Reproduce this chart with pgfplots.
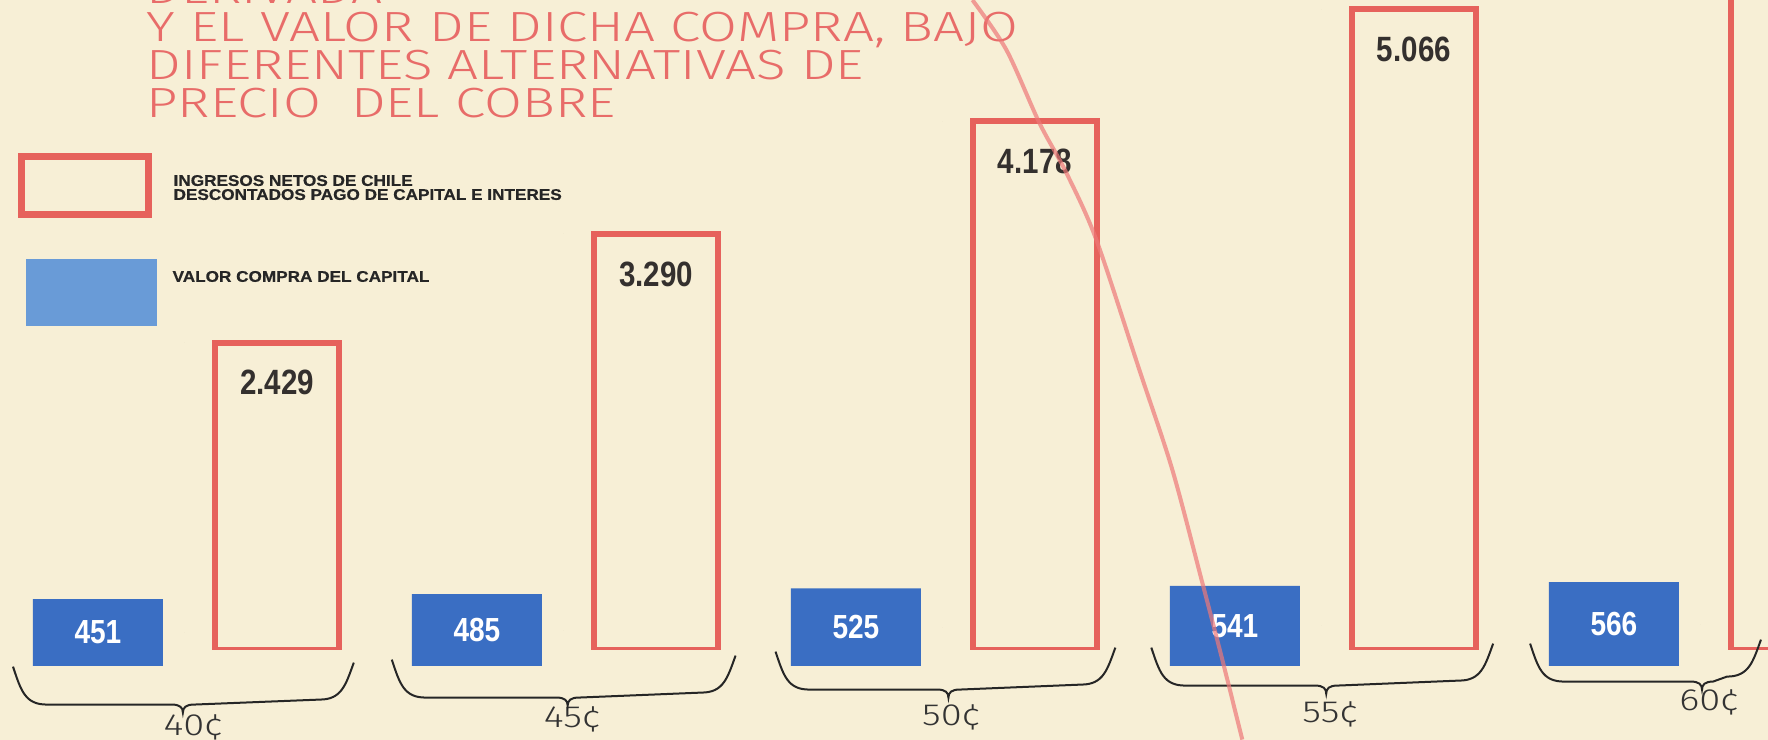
\documentclass[border=0pt]{standalone}
\usepackage{pgfplots}
\pgfplotsset{compat=1.18}
\usepackage{pgfplotstable}
\usepackage{fontspec}
\setmainfont{Liberation Sans}
\newfontfamily\titlefont{Fira Sans Light}[FakeStretch=1.3]
\newfontfamily\pricefont{Fira Sans Light}[FakeStretch=1.25]
\newfontfamily\legfont{Liberation Sans}[FakeStretch=1.11, FakeBold=0.6]
\newfontfamily\barfont{Liberation Sans}[FakeStretch=0.84]
\definecolor{bg}{RGB}{247,239,214}
\definecolor{barred}{RGB}{230,98,92}
\definecolor{titlered}{RGB}{232,108,105}
\definecolor{pinkline}{RGB}{238,120,120}
\definecolor{barblue}{RGB}{58,110,195}
\definecolor{legblue}{RGB}{105,155,215}
\definecolor{numgray}{RGB}{52,48,46}

\pgfplotstableread{
x v lab
0 2429 2.429
1 3290 3.290
2 4178 4.178
3 5066 5.066
4 5954 5.954
}\ingresos
\pgfplotstableread{
x v lab
0 451 451
1 485 485
2 525 525
3 541 541
4 566 566
}\compra

\begin{document}
\begin{tikzpicture}
\path[use as bounding box] (0,0) rectangle (17.68cm,-7.40cm);
\fill[bg] (0,0) rectangle (17.68cm,-7.40cm);

\begin{scope}[x=0.01cm,y=-0.01cm]
% title
\begin{scope}[every node/.style={anchor=base west, inner sep=0pt, text=titlered, font=\titlefont\fontsize{12}{14}\selectfont}]
\node at (146,4) {DERIVADA};
\node at (146,42) {Y EL VALOR DE DICHA COMPRA, BAJO};
\node at (146,80) {DIFERENTES ALTERNATIVAS DE};
\node at (146,118) {PRECIO\hspace{0.35em} DEL COBRE};
\end{scope}
% legend
\draw[barred, line width=0.07cm] (21.5,156.5) rectangle (148.5,214.5);
\fill[legblue] (26,259) rectangle (157,326);
\begin{scope}[every node/.style={anchor=base west, inner sep=0pt, text=black!85, font=\legfont\bfseries\fontsize{4.4}{5}\selectfont}]
\node at (173,186) {INGRESOS NETOS DE CHILE};
\node at (173,200) {DESCONTADOS PAGO DE CAPITAL E INTERES};
\node at (172,282) {VALOR COMPRA DEL CAPITAL};
\end{scope}
\end{scope}

% blue bars
\begin{axis}[at={(0cm,-6.66cm)}, anchor=south west, scale only axis,
  width=17.68cm, height=6.66cm, xmin=-0.488, xmax=4.177, ymin=0, ymax=4500,
  hide axis]
\addplot[ybar, bar width=1.30cm, bar shift=-0.87cm, fill=barblue, draw=none]
  table[x=x,y=v]{\compra};
\addplot[only marks, mark=*, mark size=0pt, draw=none, fill=none,
  nodes near coords, point meta=explicit symbolic,
  nodes near coords style={font=\barfont\bfseries\fontsize{9.5}{11}\selectfont,
    text=white, anchor=center, inner sep=0pt, xshift=-0.87cm}]
  table[x=x, y expr=\thisrow{v}/2, meta=lab]{\compra};
\end{axis}

% red bars
\begin{axis}[at={(0cm,-6.50cm)}, anchor=south west, scale only axis,
  width=17.68cm, height=6.50cm, xmin=-0.488, xmax=4.177, ymin=0, ymax=5138,
  hide y axis, x axis line style={draw=none}, xtick style={draw=none},
  xtick={0,...,4},
  xticklabels={\raisebox{-0.13cm}{40¢},\raisebox{-0.05cm}{45¢},\raisebox{-0.03cm}{50¢},{55¢},\raisebox{0.12cm}{60¢}},
  xticklabel style={anchor=base, yshift=-0.73cm, xshift=0.08cm,
    font=\pricefont\fontsize{8.7}{10}\selectfont, text=black!80}]
\addplot[ybar, bar width=1.24cm, bar shift=0.92cm, draw=barred, line width=0.6mm, fill=none]
  table[x=x,y=v]{\ingresos};
\addplot[only marks, mark=*, mark size=0pt, draw=none, fill=none,
  nodes near coords, point meta=explicit symbolic,
  nodes near coords style={font=\barfont\bfseries\fontsize{10}{12}\selectfont,
    text=numgray, anchor=north, inner sep=0pt, xshift=0.92cm, yshift=-0.27cm}]
  table[x=x, y=v, meta=lab]{\ingresos};
\end{axis}

\begin{scope}[x=0.01cm,y=-0.01cm]
% braces
\foreach \L/\R/\T/\b in {13/354/183/705, 392/736/568/698, 776/1116/949/690, 1152/1494/1327/686, 1531/1762/1703/682}{
  \draw[black!85, line width=0.2mm]
    (\L,{\b-38}) .. controls ({\L+8},{\b-14}) and ({\L+12},{\b}) .. ({\L+34},{\b})
    -- ({\T-11},{\b}) .. controls ({\T-3},{\b}) and ({\T},{\b+3}) .. ({\T},{\b+8})
    .. controls ({\T},{\b+3}) and ({\T+3},{\b}) .. ({\T+11},{\b})
    -- ({\R-34},{\b-5}) .. controls ({\R-12},{\b-5}) and ({\R-8},{\b-20}) .. (\R,{\b-42});
}
% pink overlay stroke from the printed page
\draw[pinkline, opacity=0.7, line width=0.4mm] plot[smooth] coordinates {(973,0) (1007,50) (1040,123) (1067,173) (1097,240) (1140,370) (1173,470) (1203,583) (1223,660) (1243,740)};
\end{scope}
\end{tikzpicture}
\end{document}
